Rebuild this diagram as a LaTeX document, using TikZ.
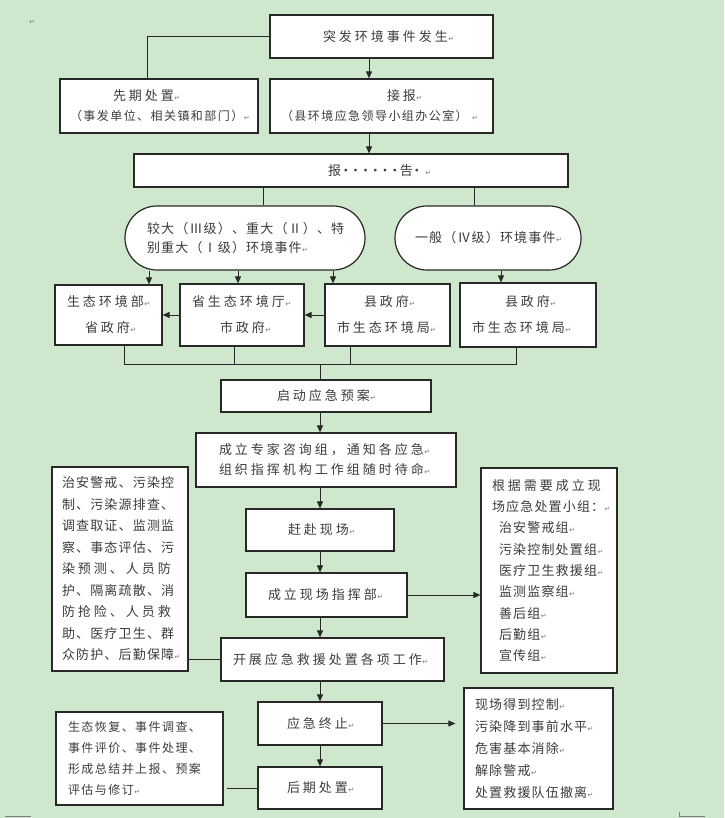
\documentclass[tikz,border=0pt]{standalone}
\usepackage{fontspec}
\usetikzlibrary{arrows.meta}
\newfontfamily\fA[LetterSpace=23]{Noto Sans CJK SC}
\newfontfamily\fB[LetterSpace=9]{Noto Sans CJK SC}
\newfontfamily\fC[LetterSpace=12]{Noto Sans CJK SC}
\newfontfamily\dv{DejaVu Sans}
\definecolor{bgc}{RGB}{207,231,204}
\definecolor{textc}{RGB}{60,60,60}
\definecolor{linec}{RGB}{40,40,40}
\definecolor{pmc}{RGB}{120,120,120}
\newcommand\pmk{\makebox[0pt][l]{\kern0.5pt{\dv\fontsize{7}{7}\selectfont\textcolor{pmc}{↵}}}}
\newcommand\dts{\makebox[9.8pt]{·}}
\begin{document}
\begin{tikzpicture}[x=1pt,y=-1pt,
  bx/.style={draw=linec, line width=1.2pt, fill=white, inner xsep=0pt, inner ysep=0pt, align=left, text=textc},
  arr/.style={draw=linec, line width=1pt, -{Triangle[length=7pt,width=6pt]}},
  ln/.style={draw=linec, line width=1pt}]
\fill[bgc] (0,0) rectangle (724,818);
\useasboundingbox (0,0) rectangle (724,818);

\node[text=pmc, font={\dv\fontsize{7}{7}\selectfont}, inner sep=0pt] (pm0) at (32,22) {↵};

\node[bx, text width=223pt, minimum height=43pt, font={\fA\fontsize{13}{20}\selectfont}] (top) at (381.5,36.5) {\hspace*{53pt}突发环境事件发生\pmk};
\node[bx, text width=198pt, minimum height=54pt, font={\fA\fontsize{13}{20}\selectfont}] (xq) at (159,106) {\hspace*{53pt}先期处置\pmk\\ {\fC\fontsize{12}{20}\selectfont\hspace*{10pt}（事发单位、相关镇和部门）\pmk}};
\node[bx, text width=223pt, minimum height=54pt, font={\fA\fontsize{13}{20}\selectfont}] (jb) at (381.5,106) {\hspace*{117pt}接报\pmk\\ {\fC\fontsize{12}{20}\selectfont\hspace*{11pt}（县环境应急领导小组办公室）\hspace{4pt}\pmk}};
\node[bx, text width=434pt, minimum height=33pt, font={\fA\fontsize{13}{20}\selectfont}] (bg) at (351,170.5) {\hspace*{194pt}报\dts\dts\dts\dts\dts\dts 告\makebox[8pt]{·}\hspace{4pt}\pmk};

\node[bx, rounded corners=31.9pt, text width=240pt, minimum height=64pt, font={\fB\fontsize{13}{18.5}\selectfont}] (r1) at (245,238) {\hspace*{22pt}较大（Ⅲ级）、重大（Ⅱ）、特\\ \hspace*{22pt}别重大（Ⅰ级）环境事件\pmk};
\node[bx, rounded corners=31.9pt, text width=186pt, minimum height=64pt, font={\fB\fontsize{13}{18.5}\selectfont}] (r2) at (488,238) {\hspace*{20pt}一般（Ⅳ级）环境事件\pmk};

\node[bx, text width=107pt, minimum height=60pt, font={\fA\fontsize{13}{26}\selectfont}] (b1) at (108.5,315) {\hspace*{12pt}生态环境部\pmk\\ \hspace*{30pt}省政府\pmk};
\node[bx, text width=124pt, minimum height=62pt, font={\fA\fontsize{13}{26}\selectfont}] (b2) at (242,315) {\hspace*{12pt}省生态环境厅\pmk\\ \hspace*{40pt}市政府\pmk};
\node[bx, text width=125pt, minimum height=62pt, font={\fA\fontsize{13}{26}\selectfont}] (b3) at (387.5,315) {\hspace*{39pt}县政府\pmk\\ \hspace*{12pt}市生态环境局\pmk};
\node[bx, text width=136pt, minimum height=64pt, font={\fA\fontsize{13}{26}\selectfont}] (b4) at (528,315) {\hspace*{45pt}县政府\pmk\\ \hspace*{12pt}市生态环境局\pmk};

\node[bx, text width=210pt, minimum height=32pt, font={\fA\fontsize{13}{20}\selectfont}] (qd) at (326,396) {\hspace*{56pt}启动应急预案\pmk};
\node[bx, text width=260pt, minimum height=54pt, font={\fA\fontsize{13}{20}\selectfont}] (zj) at (326,460) {\hspace*{23pt}成立专家咨询组，通知各应急\pmk\\ \hspace*{23pt}组织指挥机构工作组随时待命\pmk};
\node[bx, text width=148pt, minimum height=42pt, font={\fA\fontsize{13}{20}\selectfont}] (gf) at (320,530) {\hspace*{42pt}赶赴现场\pmk};
\node[bx, text width=161pt, minimum height=44pt, font={\fA\fontsize{13}{20}\selectfont}] (zh) at (326.5,595) {\hspace*{22pt}成立现场指挥部\pmk};
\node[bx, text width=223pt, minimum height=43pt, font={\fA\fontsize{13}{20}\selectfont}] (kz) at (332.5,659.5) {\hspace*{12pt}开展应急救援处置各项工作\pmk};
\node[bx, text width=124pt, minimum height=43pt, font={\fA\fontsize{13}{20}\selectfont}] (zz) at (320,723.5) {\hspace*{29pt}应急终止\pmk};
\node[bx, text width=124pt, minimum height=42pt, font={\fA\fontsize{13}{20}\selectfont}] (hq) at (320,788) {\hspace*{29pt}后期处置\pmk};

\node[bx, text width=136pt, minimum height=204pt, font={\fB\fontsize{13}{21.5}\selectfont}] (lb) at (120,569) {%
\hspace*{10pt}治安警戒、污染控\\
\hspace*{10pt}制、污染源排查、\\
\hspace*{10pt}调查取证、监测监\\
\hspace*{10pt}察、事态评估、污\\
\hspace*{10pt}{\fA 染预测、人员防}\\
\hspace*{10pt}护、隔离疏散、消\\
\hspace*{10pt}{\fA 防抢险、人员救}\\
\hspace*{10pt}助、医疗卫生、群\\
\hspace*{10pt}众防护、后勤保障\pmk};

\node[bx, text width=136pt, minimum height=205pt, font={\fB\fontsize{13}{21.3}\selectfont}] (rb) at (549,570.5) {%
\hspace*{11pt}{\fA 根据需要成立现}\\
\hspace*{11pt}场应急处置小组：\pmk\\
\hspace*{18pt}治安警戒组\pmk\\
\hspace*{18pt}污染控制处置组\pmk\\
\hspace*{18pt}医疗卫生救援组\pmk\\
\hspace*{18pt}监测监察组\pmk\\
\hspace*{18pt}善后组\pmk\\
\hspace*{18pt}后勤组\pmk\\
\hspace*{18pt}宣传组\pmk};

\node[bx, text width=167pt, minimum height=93pt, font={\fC\fontsize{12}{21}\selectfont}] (lb2) at (139.5,758.5) {%
\hspace*{12pt}生态恢复、事件调查、\\
\hspace*{12pt}事件评价、事件处理、\\
\hspace*{12pt}形成总结并上报、预案\\
\hspace*{12pt}评估与修订\pmk};

\node[bx, text width=149pt, minimum height=121pt, font={\fB\fontsize{13}{21.8}\selectfont}] (rb2) at (538.5,748.5) {%
\hspace*{11pt}现场得到控制\pmk\\
\hspace*{11pt}污染降到事前水平\pmk\\
\hspace*{11pt}危害基本消除\pmk\\
\hspace*{11pt}解除警戒\pmk\\
\hspace*{11pt}处置救援队伍撤离\pmk};

\foreach \xx in {124,147,149,234,238,263,320,333,350,369,474,501,516}{\coordinate (x\xx) at (\xx,0);}
\coordinate (cy364) at (0,364);

\draw[ln] (top.west) -| (xq.north -| x147);
\draw[arr] (top.south -| x369) -- (jb.north -| x369);
\draw[arr] (jb.south -| x369) -- (bg.north -| x369);
\draw[ln] (bg.south -| x263) -- (r1.north -| x263);
\draw[ln] (bg.south -| x474) -- (r2.north -| x474);
\draw[arr] (r1.south -| x149) -- (b1.north -| x149);
\draw[arr] (r1.south -| x238) -- (b2.north -| x238);
\draw[arr] (r1.south -| x333) -- (b3.north -| x333);
\draw[arr] (r2.south -| x501) -- (b4.north -| x501);
\draw[arr] (b2.west) -- (b1.east);
\draw[arr] (b3.west) -- (b2.east);
\draw[ln] (b1.south -| x124) -- (x124 |- cy364) -- (x516 |- cy364) -- (b4.south -| x516);
\draw[ln] (b2.south -| x234) -- (x234 |- cy364);
\draw[ln] (b3.south -| x350) -- (x350 |- cy364);
\draw[ln] (x320 |- cy364) -- (qd.north -| x320);
\draw[arr] (qd.south -| x320) -- (zj.north -| x320);
\draw[arr] (zj.south -| x320) -- (gf.north -| x320);
\draw[arr] (gf.south -| x320) -- (zh.north -| x320);
\draw[arr] (zh.south -| x320) -- (kz.north -| x320);
\draw[arr] (kz.south -| x320) -- (zz.north -| x320);
\draw[arr] (zz.south -| x320) -- (hq.north -| x320);
\draw[arr] (zh.east) -- (zh.east -| rb.west);
\draw[ln] (kz.west -| lb.east) -- (kz.west);
\draw[arr] (zz.east) -- ([xshift=-8pt]zz.east -| rb2.west);
\draw[ln] ([xshift=3pt]hq.west -| lb2.east) -- (hq.west);

\draw[gray, line width=0.8pt] (5,816) -- (31,816);
\draw[gray, line width=0.8pt] (679,812) -- (679,816) -- (705,816);
\end{tikzpicture}
\end{document}
